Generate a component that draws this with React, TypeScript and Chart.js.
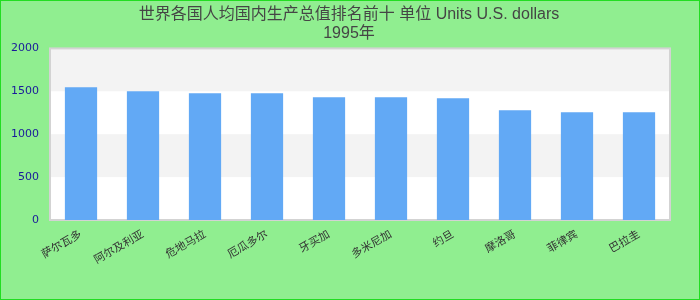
import React, { useEffect, useRef } from "react";
import { Chart, registerables } from "chart.js";

Chart.register(...registerables);

const titleLines = ["世界各国人均国内生产总值排名前十 单位 Units U.S. dollars", "1995年"];
const categories = ["萨尔瓦多", "阿尔及利亚", "危地马拉", "厄瓜多尔", "牙买加", "多米尼加", "约旦", "摩洛哥", "菲律宾", "巴拉圭"];
const values = [1547, 1500, 1477, 1477, 1430, 1430, 1419, 1279, 1256, 1256];
const yTicks = [0, 500, 1000, 1500, 2000];

const bandPlugin = {
  id: "bands",
  beforeDatasetsDraw(chart: any) {
    const { ctx, chartArea, scales } = chart;
    const y = scales.y;
    ctx.save();
    ctx.fillStyle = "#ffffff";
    ctx.fillRect(chartArea.left, chartArea.top, chartArea.right - chartArea.left, chartArea.bottom - chartArea.top);
    ctx.fillStyle = "#f3f3f3";
    for (let i = 0; i < yTicks.length - 1; i++) {
      if (i % 2 === 1) {
        const top = y.getPixelForValue(yTicks[i + 1]);
        const bot = y.getPixelForValue(yTicks[i]);
        ctx.fillRect(chartArea.left, top, chartArea.right - chartArea.left, bot - top);
      }
    }
    ctx.strokeStyle = "#d3d3d3";
    ctx.lineWidth = 2;
    ctx.strokeRect(chartArea.left, chartArea.top, chartArea.right - chartArea.left, chartArea.bottom - chartArea.top);
    ctx.restore();
  },
};

export default function App() {
  const ref = useRef<HTMLCanvasElement>(null);
  useEffect(() => {
    document.body.style.margin = "0";
    const chart = new Chart(ref.current!, {
      type: "bar",
      data: {
        labels: categories,
        datasets: [
          {
            data: values,
            backgroundColor: "#62a9f5",
            barPercentage: 0.52,
            categoryPercentage: 1,
          },
        ],
      },
      options: {
        animation: false,
        responsive: false,
        maintainAspectRatio: false,
        layout: { padding: { left: 8, right: 10, top: 4, bottom: 0 } },
        plugins: {
          legend: { display: false },
          tooltip: { enabled: false },
          title: {
            display: true,
            text: titleLines,
            color: "#454545",
            font: { size: 16, family: "'Liberation Sans', Arial, 'Noto Sans CJK SC', sans-serif", weight: "normal" },
            padding: { top: 0, bottom: 5 },
          },
        },
        scales: {
          x: {
            grid: { display: false, drawTicks: false },
            border: { display: false },
            afterFit: (axis: any) => {
              axis.height = 79;
            },
            ticks: {
              color: "#333333",
              font: { size: 11, family: "'DejaVu Sans', 'Noto Sans CJK SC', sans-serif" },
              maxRotation: 30,
              minRotation: 30,
              padding: 8,
            },
          },
          y: {
            min: 0,
            max: 2000,
            grid: { display: false, drawTicks: false },
            border: { display: false },
            afterFit: (axis: any) => {
              axis.width = 41;
            },
            ticks: {
              stepSize: 500,
              color: "#1a1a9a",
              font: { size: 11, family: "'DejaVu Sans', sans-serif" },
              padding: 11,
              callback: (v: any) => String(v),
            },
          },
          yRight: {
            type: "linear",
            position: "right",
            display: true,
            grid: { display: false, drawTicks: false },
            border: { display: false },
            ticks: { display: false },
            afterFit: (axis: any) => {
              axis.width = 19;
            },
          },
        },
      },
      plugins: [bandPlugin],
    });
    return () => chart.destroy();
  }, []);
  return (
    <div
      style={{
        width: 700,
        height: 300,
        boxSizing: "border-box",
        border: "1px solid #22dd22",
        background: "#90ee90",
      }}
    >
      <canvas ref={ref} width={698} height={298} style={{ display: "block" }} />
    </div>
  );
}
